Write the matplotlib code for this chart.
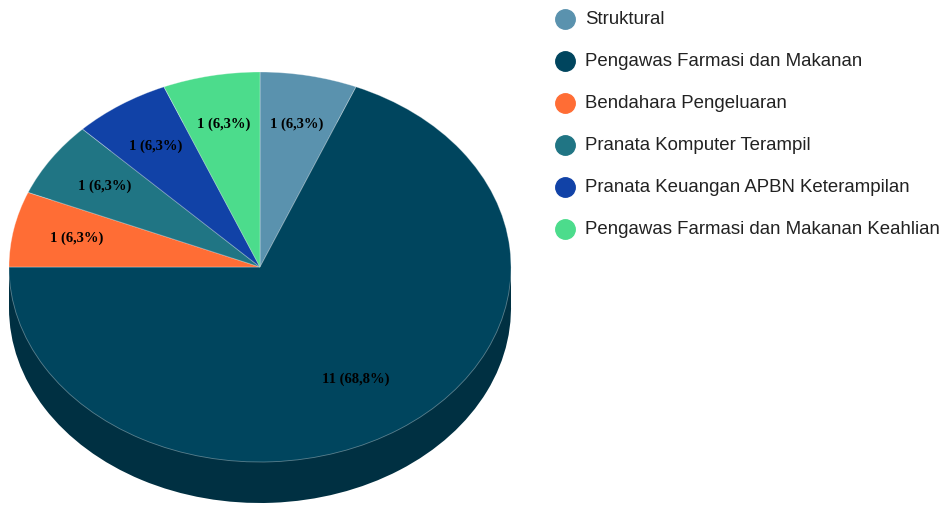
import matplotlib
matplotlib.use("Agg")
import matplotlib.pyplot as plt
import matplotlib.colors as mcolors
import numpy as np
from decimal import Decimal, ROUND_HALF_UP

categories = ["Struktural", "Pengawas Farmasi dan Makanan", "Bendahara Pengeluaran",
              "Pranata Komputer Terampil", "Pranata Keuangan APBN Keterampilan",
              "Pengawas Farmasi dan Makanan Keahlian"]
values = [1, 11, 1, 1, 1, 1]
colors = ["#5A92AE", "#00455E", "#FF6D35", "#207584", "#1142A7", "#4CDC8C"]

W, H = 945, 505
fig = plt.figure(figsize=(W / 100, H / 100), dpi=100)
ax = fig.add_axes([0, 0, 1, 1])

# pixel geometry of the pie
cx, cy, rx, ry, depth = 260, 267, 251, 195, 41
d = depth / ry

def dark(c, f=0.7):
    r, g, b = mcolors.to_rgb(c)
    return (r * f, g * f, b * f)

total = sum(values)
big = int(np.argmax(values))

# side of the 3D pie
side, _ = ax.pie(values, colors=[dark(c) for c in colors], startangle=90, counterclock=False,
                 center=(0, -d), radius=1, wedgeprops=dict(linewidth=0))
for w in side:
    w.set_zorder(0.2)
ax.fill_between([-1, 1], [-d, -d], [0, 0], color=dark(colors[big]), linewidth=0, zorder=0.5)

def fmt(p):
    n = int(round(p * total / 100))
    s = Decimal(str(round(p, 6))).quantize(Decimal("0.1"), rounding=ROUND_HALF_UP)
    return f"{n} ({s}%)".replace(".", ",")

wedges, texts, autotexts = ax.pie(values, colors=colors, startangle=90, counterclock=False,
                                  center=(0, 0), radius=1, autopct=fmt, pctdistance=0.745,
                                  wedgeprops=dict(linewidth=0.6, edgecolor=(1, 1, 1, 0.35)),
                                  textprops=dict(family="Liberation Serif", fontweight="bold",
                                                 fontsize=10.5, color="black"))
for w in wedges:
    w.set_zorder(2)
for t in autotexts:
    t.set_zorder(3)
# big slice label slightly closer to centre
ang = np.deg2rad((wedges[big].theta1 + wedges[big].theta2) / 2)
autotexts[big].set_position((0.69 * np.cos(ang), 0.69 * np.sin(ang)))

ax.set_aspect("auto")
ax.set_xlim(-cx / rx, (W - cx) / rx)
ax.set_ylim((cy - H) / ry, cy / ry)
ax.axis("off")

# legend
lx_marker, lx_text, ly0, ldy = 565, 585, 19, 42
for i, (cat, col) in enumerate(zip(categories, colors)):
    y = 1 - (ly0 + i * ldy) / H
    fig.add_artist(plt.Line2D([lx_marker / W], [y], marker="o", markersize=14,
                              color=col, linestyle="none", transform=fig.transFigure))
    fig.text(lx_text / W, y, cat, fontsize=13.4, family="Liberation Sans",
             color="#222222", va="center", ha="left")

fig.savefig("out.png", dpi=100, facecolor="white")
